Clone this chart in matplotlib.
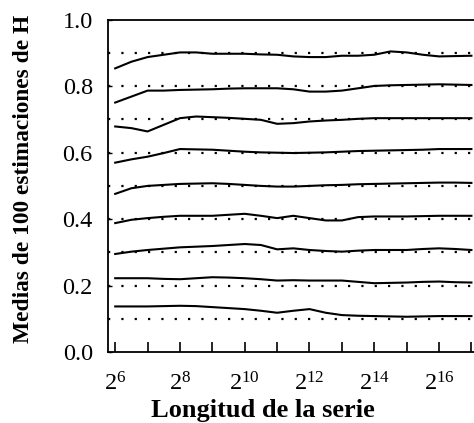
import matplotlib
matplotlib.use('Agg')
import matplotlib.pyplot as plt
import numpy as np

plt.rcParams['font.family'] = ['Liberation Serif', 'DejaVu Serif']
plt.rcParams['mathtext.fontset'] = 'custom'
plt.rcParams['mathtext.rm'] = 'Liberation Serif'
plt.rcParams['mathtext.it'] = 'Liberation Serif'

# exponent of the series length (length = 2**exp)
exps = [6, 6.5, 7, 7.5, 8, 8.5, 9, 9.5, 10, 10.5, 11, 11.5,
        12, 12.5, 13, 13.5, 14, 14.5, 15, 15.5, 16, 16.5, 17]

# true H values (dotted reference lines)
h_true = [0.1, 0.2, 0.3, 0.4, 0.5, 0.6, 0.7, 0.8, 0.9]

# mean of 100 estimates, one curve per true H
h09 = [0.854, 0.874, 0.888, 0.895, 0.902, 0.902, 0.898, 0.898, 0.898, 0.896, 0.895, 0.890,
       0.888, 0.888, 0.892, 0.892, 0.895, 0.905, 0.902, 0.895, 0.890, 0.891, 0.892]
h08 = [0.751, 0.769, 0.787, 0.787, 0.789, 0.790, 0.791, 0.793, 0.794, 0.794, 0.794, 0.791,
       0.784, 0.784, 0.787, 0.794, 0.801, 0.803, 0.804, 0.805, 0.806, 0.805, 0.804]
h07 = [0.679, 0.674, 0.664, 0.684, 0.704, 0.709, 0.707, 0.705, 0.702, 0.699, 0.687, 0.689,
       0.694, 0.697, 0.699, 0.702, 0.704, 0.704, 0.704, 0.704, 0.704, 0.704, 0.704]
h06 = [0.570, 0.580, 0.588, 0.599, 0.611, 0.610, 0.609, 0.606, 0.603, 0.601, 0.600, 0.599,
       0.600, 0.601, 0.603, 0.605, 0.606, 0.607, 0.608, 0.609, 0.611, 0.611, 0.611]
h05 = [0.476, 0.493, 0.500, 0.503, 0.506, 0.507, 0.508, 0.506, 0.503, 0.500, 0.498, 0.498,
       0.500, 0.502, 0.503, 0.505, 0.506, 0.507, 0.508, 0.509, 0.510, 0.510, 0.509]
h04 = [0.388, 0.398, 0.403, 0.407, 0.410, 0.410, 0.410, 0.413, 0.416, 0.410, 0.403, 0.410,
       0.403, 0.396, 0.396, 0.406, 0.408, 0.408, 0.408, 0.409, 0.410, 0.410, 0.410]
h03 = [0.295, 0.302, 0.307, 0.311, 0.315, 0.317, 0.319, 0.322, 0.325, 0.322, 0.309, 0.312,
       0.307, 0.304, 0.302, 0.305, 0.307, 0.307, 0.307, 0.310, 0.312, 0.310, 0.307]
h02 = [0.222, 0.222, 0.222, 0.220, 0.219, 0.222, 0.225, 0.224, 0.222, 0.219, 0.215, 0.216,
       0.215, 0.215, 0.215, 0.211, 0.207, 0.208, 0.209, 0.211, 0.212, 0.210, 0.209]
h01 = [0.137, 0.137, 0.137, 0.138, 0.139, 0.138, 0.135, 0.132, 0.129, 0.124, 0.118, 0.124,
       0.129, 0.118, 0.111, 0.109, 0.108, 0.107, 0.106, 0.107, 0.108, 0.108, 0.108]

tick_exps = list(range(6, 18))
yticks = [0.0, 0.2, 0.4, 0.6, 0.8, 1.0]

fig = plt.figure(figsize=(4.74, 4.23), dpi=100)
ax = fig.add_axes([0.228, 0.168, 0.772, 0.785])
ax.set_xscale('log', base=2)

n = 2.0 ** np.array(exps)
for h in h_true:
    ax.axhline(h, color='black', lw=1.6, linestyle=(0, (1, 5)))
for curve in [h01, h02, h03, h04, h05, h06, h07, h08, h09]:
    ax.plot(n, curve, color='black', lw=1.5)

ax.set_xlim(2 ** 5.78, 2 ** 17.08)
ax.set_ylim(0, 1.0)

ax.set_xticks([2.0 ** e for e in tick_exps])
ax.set_xticklabels(['$2^{%d}$' % e if e % 2 == 0 else '' for e in tick_exps])
ax.minorticks_off()
ax.set_yticks(yticks)
ax.set_yticklabels(['%.1f' % v for v in yticks])

ax.tick_params(axis='x', direction='in', length=7, width=1.2, labelsize=17.5, pad=15)
ax.tick_params(axis='y', direction='in', length=3, width=1, labelsize=17.5, pad=11)

ax.spines['right'].set_visible(False)
for s in ['left', 'bottom', 'top']:
    ax.spines[s].set_linewidth(1.3)

fig.text(0.554, 0.014, 'Longitud de la serie', fontsize=19, fontweight='bold',
         ha='center', va='baseline')
fig.text(0.05, 0.577, 'Medias de 100 estimaciones de H', fontsize=16.8, fontweight='bold',
         rotation=90, ha='center', va='center')

plt.savefig('out.png', dpi=100)
